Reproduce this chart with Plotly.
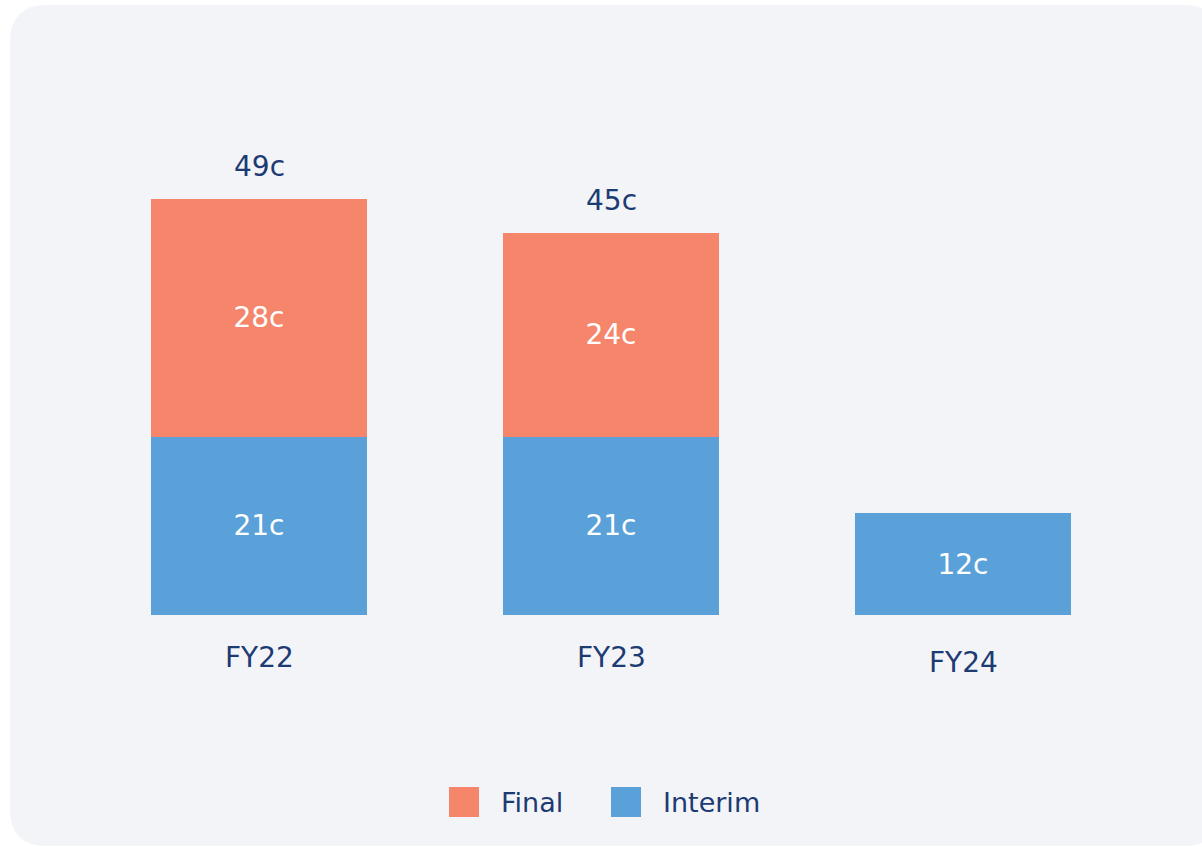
import plotly.graph_objects as go

# ---- data ----
categories = ["FY22", "FY23", "FY24"]
interim = [21, 21, 12]
final = [28, 24, None]

# ---- style ----
W, H = 1202, 847
ML, MR, MT, MB = 83, 63, 105, 232
PW, PH = W - ML - MR, H - MT - MB
C_FINAL = "#f5866b"
C_INTERIM = "#5aa1d9"
C_TEXT = "#1c3b73"
C_PANEL = "#f3f4f8"
FONT = "DejaVu Sans"
CAT_SHIFT = [-42, -42, -47]


def px_x(px):
    return (px - ML) / PW


def px_y(py):
    return (H - MB - py) / PH


totals = [a + (b or 0) for a, b in zip(interim, final)]

fig = go.Figure()
fig.add_trace(go.Bar(
    x=categories, y=interim, name="Interim",
    marker=dict(color=C_INTERIM, line=dict(width=0)),
    text=[f"{v}c" for v in interim], textposition="inside",
    insidetextanchor="middle", textangle=0,
    textfont=dict(color="white", size=28, family=FONT),
    hoverinfo="skip", showlegend=False,
))
fig.add_trace(go.Bar(
    x=categories, y=final, name="Final",
    marker=dict(color=C_FINAL, line=dict(width=0)),
    text=[f"{v}c" if v else "" for v in final], textposition="inside",
    insidetextanchor="middle", textangle=0,
    textfont=dict(color="white", size=28, family=FONT),
    hoverinfo="skip", showlegend=False,
))

annotations = []
# totals above stacked bars (only where there's a final component)
for c, t, f in zip(categories, totals, final):
    if f:
        annotations.append(dict(x=c, y=t, xref="x", yref="y", text=f"{t}c",
                                showarrow=False, yanchor="middle", yshift=32,
                                font=dict(size=28, color=C_TEXT, family=FONT)))
# category labels
for c, s in zip(categories, CAT_SHIFT):
    annotations.append(dict(x=c, y=0, xref="x", yref="y", text=c,
                            showarrow=False, yanchor="middle", yshift=s,
                            font=dict(size=28, color=C_TEXT, family=FONT)))

shapes = []
# rounded background panel
x0, x1, y0, y1 = px_x(10), px_x(1221), px_y(5), px_y(846)
rx, ry = 37 / PW, 37 / PH
path = (f"M{x0+rx},{y0} L{x1-rx},{y0} Q{x1},{y0} {x1},{y0-ry} "
        f"L{x1},{y1+ry} Q{x1},{y1} {x1-rx},{y1} L{x0+rx},{y1} "
        f"Q{x0},{y1} {x0},{y1+ry} L{x0},{y0-ry} Q{x0},{y0} {x0+rx},{y0} Z")
shapes.append(dict(type="path", path=path, xref="paper", yref="paper",
                   fillcolor=C_PANEL, line=dict(width=0), layer="below"))

# manual legend (large swatches)
legend_items = [("Final", C_FINAL, 464), ("Interim", C_INTERIM, 626)]
for name, col, cx in legend_items:
    shapes.append(dict(type="rect", xref="paper", yref="paper",
                       xsizemode="pixel", ysizemode="pixel",
                       xanchor=px_x(cx), yanchor=px_y(802),
                       x0=-15, x1=15, y0=-15, y1=15,
                       fillcolor=col, line=dict(width=0)))
    annotations.append(dict(x=px_x(cx + 35), y=px_y(802), xref="paper", yref="paper",
                            text=name, showarrow=False, xanchor="left", yanchor="middle",
                            font=dict(size=27, color=C_TEXT, family=FONT)))

fig.update_layout(
    width=W, height=H,
    margin=dict(l=ML, r=MR, t=MT, b=MB, autoexpand=False),
    barmode="stack", bargap=0.386,
    paper_bgcolor="white", plot_bgcolor="rgba(0,0,0,0)",
    showlegend=False,
    xaxis=dict(showticklabels=False, showgrid=False, zeroline=False,
               showline=False, ticks="", range=[-0.5, 2.5]),
    yaxis=dict(visible=False, range=[0, 60], showgrid=False, zeroline=False),
    annotations=annotations, shapes=shapes,
    font=dict(family=FONT, color=C_TEXT),
)

fig.write_html("out.html", config={"displayModeBar": False},
               post_script="document.body.style.margin='0px';document.body.style.overflow='hidden';")
